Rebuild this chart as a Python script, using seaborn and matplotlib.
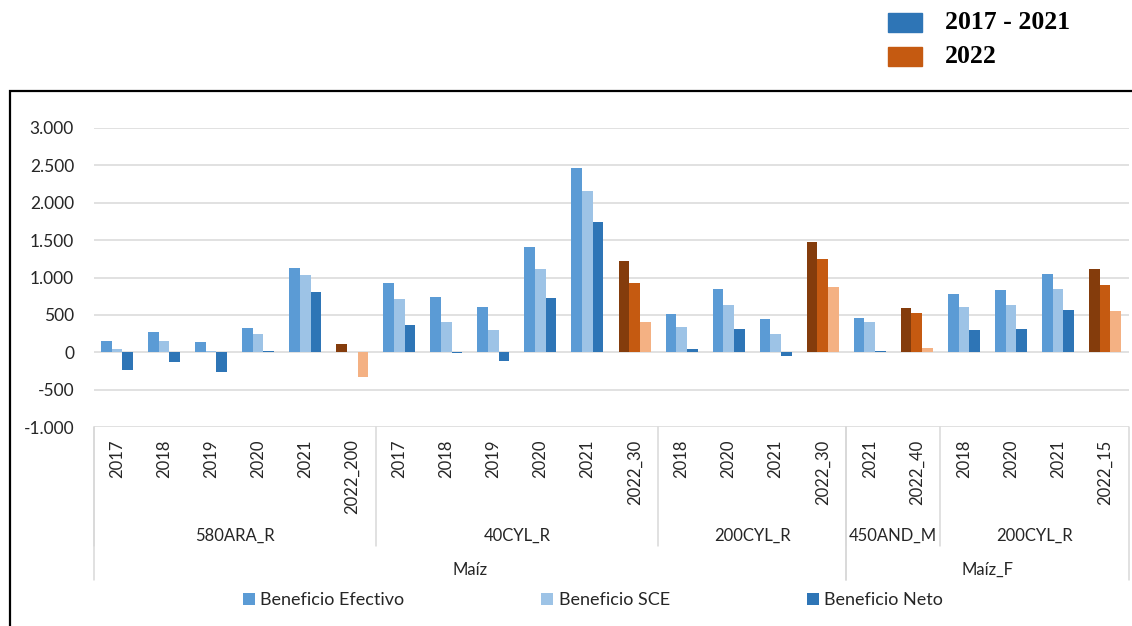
import matplotlib
matplotlib.use("Agg")
import matplotlib.pyplot as plt
import matplotlib.patches as mpatches
import matplotlib.transforms as mtrans
from matplotlib.lines import Line2D
from matplotlib.ticker import FuncFormatter
import pandas as pd
import seaborn as sns

# --- data ---
cultivos = ['Maíz'] * 16 + ['Maíz_F'] * 6
fincas = (['580ARA_R'] * 6 + ['40CYL_R'] * 6 + ['200CYL_R'] * 4
          + ['450AND_M'] * 2 + ['200CYL_R'] * 4)
anios = ['2017', '2018', '2019', '2020', '2021', '2022_200',
         '2017', '2018', '2019', '2020', '2021', '2022_30',
         '2018', '2020', '2021', '2022_30',
         '2021', '2022_40',
         '2018', '2020', '2021', '2022_15']
efectivo = [147, 268, 138, 330, 1129, 111,
            928, 741, 607, 1410, 2468, 1223,
            518, 848, 446, 1477,
            459, 593,
            781, 830, 1049, 1116]
sce = [40, 147, 17, 241, 1040, 8,
       710, 410, 303, 1120, 2160, 933,
       339, 629, 250, 1250,
       406, 526,
       607, 629, 848, 901]
neto = [-241, -126, -264, 17, 803, -326,
        370, -8, -112, 723, 1749, 410,
        40, 312, -49, 875,
        17, 58,
        299, 312, 562, 553]
series = ['Beneficio Efectivo', 'Beneficio SCE', 'Beneficio Neto']
colores_azul = ['#5B9BD5', '#9DC3E6', '#2E75B6']
colores_2022 = ['#843C0C', '#C55A11', '#F4B183']

ids = [str(i) for i in range(len(anios))]
df = pd.DataFrame({
    'id': ids * 3,
    'serie': [s for s in series for _ in ids],
    'valor': efectivo + sce + neto,
})

sns.set_style('white')
plt.rcParams['font.family'] = ['Lato', 'DejaVu Sans']
txt = '#262626'

W, H = 1132, 626
fig = plt.figure(figsize=(W / 100, H / 100), dpi=100)
ax = fig.add_axes([93.5 / W, 1 - 427 / H, (1128.5 - 93.5) / W, (427 - 128) / H])

sns.barplot(data=df, x='id', y='valor', hue='serie', order=ids,
            hue_order=series, palette=colores_azul, width=0.68,
            saturation=1, linewidth=0, ax=ax)

# 2022 bars drawn in the orange family
for i, cont in enumerate(ax.containers):
    for j, bar in enumerate(cont):
        if anios[j].startswith('2022'):
            bar.set_facecolor(colores_2022[i])

handles, labels = ax.get_legend_handles_labels()
ax.get_legend().remove()

ax.set_ylim(-1000, 3000)
ax.set_xlim(-0.5, len(anios) - 0.5)
ax.set_yticks(range(-1000, 3001, 500))
ax.yaxis.set_major_formatter(FuncFormatter(lambda v, p: f"{int(v):,}".replace(',', '.')))
ax.yaxis.grid(True, color='#D9D9D9', linewidth=1.1)
ax.set_axisbelow(True)
for s in ax.spines.values():
    s.set_visible(False)
ax.tick_params(axis='y', length=0, pad=14, labelsize=12.5, labelcolor=txt)
ax.set_xticks(range(len(anios)))
ax.set_xticklabels(anios, rotation=90, va='top', ha='center')
ax.tick_params(axis='x', length=0, pad=9, labelsize=12, labelcolor=txt)
ax.set_xlabel('')
ax.set_ylabel('')

# multi-level category axis
tr = mtrans.blended_transform_factory(ax.transData, fig.transFigure)
fy = lambda px: 1 - px / H
lc = '#D9D9D9'


def vline(x, y_bot):
    fig.add_artist(Line2D([x, x], [fy(427), fy(y_bot)], transform=tr,
                          color=lc, lw=1.1, clip_on=False))


def grupos(etiquetas):
    out = []
    start = 0
    for k in range(1, len(etiquetas) + 1):
        if k == len(etiquetas) or etiquetas[k] != etiquetas[start]:
            out.append((etiquetas[start], start, k - 1))
            start = k
    return out


claves_finca = [c + '|' + f for c, f in zip(cultivos, fincas)]
for clave, a, b in grupos(claves_finca):
    ax.text((a + b) / 2, fy(536), clave.split('|')[1], transform=tr,
            ha='center', va='center', fontsize=12, color=txt)
    vline(a - 0.5, 546)
for nombre, a, b in grupos(cultivos):
    ax.text((a + b) / 2, fy(570), nombre, transform=tr,
            ha='center', va='center', fontsize=12, color=txt)
    vline(a - 0.5, 580)
    vline(b + 0.5, 580)

# bottom legend
fig.legend(handles, labels, loc='center', bbox_to_anchor=(593 / W, fy(600)),
           ncol=3, frameon=False, fontsize=13, handlelength=0.65,
           handleheight=0.65, handletextpad=0.3, columnspacing=7.6,
           labelcolor=txt)

# top legend (period colours)
for y0, col, lab in [(13, '#2E75B6', '2017 - 2021'), (47, '#C55A11', '2022')]:
    fig.add_artist(mpatches.Rectangle((888 / W, fy(y0 + 19)), 34 / W, 19 / H,
                                      transform=fig.transFigure, color=col))
    fig.text(945 / W, fy(y0 + 9.5), lab, ha='left', va='center',
             fontsize=18.5, fontweight='bold', family='Liberation Serif',
             color='black')

# outer frame
fig.add_artist(mpatches.Rectangle((10 / W, -0.02), 1.1, fy(91) + 0.02,
                                  transform=fig.transFigure, fill=False,
                                  edgecolor='black', linewidth=1.6))

fig.savefig('out.png', dpi=100)
